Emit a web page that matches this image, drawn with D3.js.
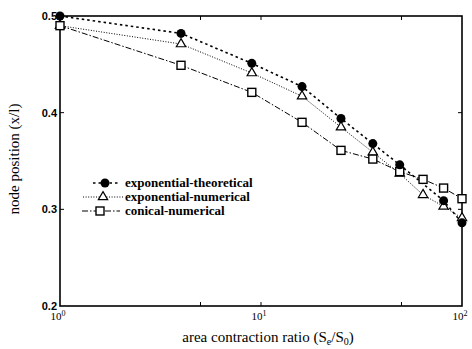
<!DOCTYPE html>
<html>
<head>
<meta charset="utf-8">
<script src="https://cdn.jsdelivr.net/npm/d3@7"></script>
<style>
  body { margin: 0; background: #fff; }
  svg { display: block; }
</style>
</head>
<body>
<svg id="chart" width="472" height="349"></svg>
<script>
// area contraction ratio values (x) for each series
const xTheo = [1, 4, 9, 16, 25, 36, 49, 81, 100];
const yTheo = [0.5, 0.482, 0.451, 0.427, 0.394, 0.368, 0.346, 0.309, 0.286];

const xNum = [1, 4, 9, 16, 25, 36, 49, 64, 81, 100];
const yNum = [0.49, 0.471, 0.441, 0.417, 0.385, 0.359, 0.337, 0.315, 0.303, 0.291];

const xCon = [1, 4, 9, 16, 25, 36, 49, 64, 81, 100];
const yCon = [0.49, 0.449, 0.421, 0.39, 0.361, 0.352, 0.339, 0.331, 0.322, 0.311];

const seriesNames = ["exponential-theoretical", "exponential-numerical", "conical-numerical"];
const yTicks = [0.2, 0.3, 0.4, 0.5];
const xTicks = [1, 10, 100];
const xMinor = [5, 50];

let svg = d3.select("#chart"),
    margin = {top: 16, right: 10, bottom: 43, left: 60},
    width = +svg.attr("width") - margin.left - margin.right,
    height = +svg.attr("height") - margin.top - margin.bottom,
    g = svg.append("g").attr("transform", "translate(" + margin.left + "," + margin.top + ")");

let x = d3.scaleLog().domain([1, 100]).range([0, width]);
let y = d3.scaleLinear().domain([0.2, 0.5]).range([height, 0]);

// frame
g.append("rect")
  .attr("width", width).attr("height", height)
  .attr("fill", "none").attr("stroke", "#000").attr("stroke-width", 1.6);

// inward ticks
g.selectAll(".ytick").data(yTicks.slice(1, 3)).enter().append("g")
  .each(function(d) {
    d3.select(this).append("line").attr("x1", 0).attr("x2", 4).attr("y1", y(d)).attr("y2", y(d)).attr("stroke", "#000");
    d3.select(this).append("line").attr("x1", width).attr("x2", width - 4).attr("y1", y(d)).attr("y2", y(d)).attr("stroke", "#000");
  });
g.selectAll(".xtick").data([10].concat(xMinor)).enter().append("g")
  .each(function(d) {
    d3.select(this).append("line").attr("x1", x(d)).attr("x2", x(d)).attr("y1", height).attr("y2", height - 4).attr("stroke", "#000");
    d3.select(this).append("line").attr("x1", x(d)).attr("x2", x(d)).attr("y1", 0).attr("y2", 4).attr("stroke", "#000");
  });

// y tick labels
g.selectAll(".ylab").data(yTicks).enter().append("text")
  .attr("x", -3).attr("y", d => y(d) + 4)
  .attr("text-anchor", "end")
  .style("font-family", "Liberation Sans, Arial, sans-serif")
  .style("font-weight", "bold").style("font-size", "11px")
  .text(d => d.toFixed(1));

// x tick labels (10^n)
let xl = g.selectAll(".xlab").data(xTicks).enter().append("text")
  .attr("x", d => x(d) - 2).attr("y", height + 14)
  .attr("text-anchor", "middle")
  .style("font-family", "Liberation Serif, Times New Roman, serif")
  .style("font-size", "11px");
xl.append("tspan").text("10");
xl.append("tspan").attr("dy", -4).style("font-size", "8px").text(d => Math.round(Math.log10(d)));

// axis titles
let xt = svg.append("text")
  .attr("x", 268).attr("y", 342)
  .attr("text-anchor", "middle")
  .style("font-family", "Liberation Serif, Times New Roman, serif")
  .style("font-size", "15px");
xt.append("tspan").text("area contraction ratio (S");
xt.append("tspan").attr("dy", 3).style("font-size", "10px").text("e");
xt.append("tspan").attr("dy", -3).text("/S");
xt.append("tspan").attr("dy", 3).style("font-size", "10px").text("0");
xt.append("tspan").attr("dy", -3).text(")");

svg.append("text")
  .attr("transform", "translate(19," + (margin.top + height / 2 - 2) + ") rotate(-90)")
  .attr("text-anchor", "middle")
  .style("font-family", "Liberation Serif, Times New Roman, serif")
  .style("font-size", "15px")
  .text("node position (x/l)");

// series lines
let line = d3.line().x(d => x(d[0])).y(d => y(d[1]));
let styles = [
  {dash: "2.5,3", w: 1.6},
  {dash: "1,1.6", w: 1},
  {dash: "6,2,1.5,2", w: 1}
];
let data = [d3.zip(xTheo, yTheo), d3.zip(xNum, yNum), d3.zip(xCon, yCon)];

data.forEach(function(pts, i) {
  g.append("path").datum(pts)
    .attr("d", line)
    .attr("fill", "none").attr("stroke", "#000")
    .attr("stroke-width", styles[i].w)
    .attr("stroke-dasharray", styles[i].dash);
});

function drawMarker(sel, i) {
  if (i == 0) {
    sel.append("circle").attr("r", 4.5).attr("fill", "#000");
  } else if (i == 1) {
    sel.append("path").attr("d", d3.symbol().type(d3.symbolTriangle).size(38))
      .attr("fill", "#fff").attr("stroke", "#000").attr("stroke-width", 1.2);
  } else {
    sel.append("rect").attr("x", -4).attr("y", -4).attr("width", 8).attr("height", 8)
      .attr("fill", "#fff").attr("stroke", "#000").attr("stroke-width", 1.4);
  }
}

// markers: triangles, then squares, circles on top
[1, 2, 0].forEach(function(i) {
  g.selectAll(".m" + i).data(data[i]).enter().append("g")
    .attr("transform", d => "translate(" + x(d[0]) + "," + y(d[1]) + ")")
    .each(function() { drawMarker(d3.select(this), i); });
});

// legend
let legY = [183, 197, 211];
let lx1 = [93, 83, 82], lx2 = [118, 123, 120], mx = [105, 103, 100];
seriesNames.forEach(function(name, i) {
  svg.append("line")
    .attr("x1", lx1[i]).attr("x2", lx2[i]).attr("y1", legY[i]).attr("y2", legY[i])
    .attr("stroke", "#000").attr("stroke-width", styles[i].w)
    .attr("stroke-dasharray", styles[i].dash);
  drawMarker(svg.append("g").attr("transform", "translate(" + mx[i] + "," + legY[i] + ")"), i);
  svg.append("text")
    .attr("x", 125).attr("y", legY[i] + 4)
    .style("font-family", "Liberation Serif, Times New Roman, serif")
    .style("font-weight", "bold").style("font-size", "13px")
    .text(name);
});
</script>
</body>
</html>
